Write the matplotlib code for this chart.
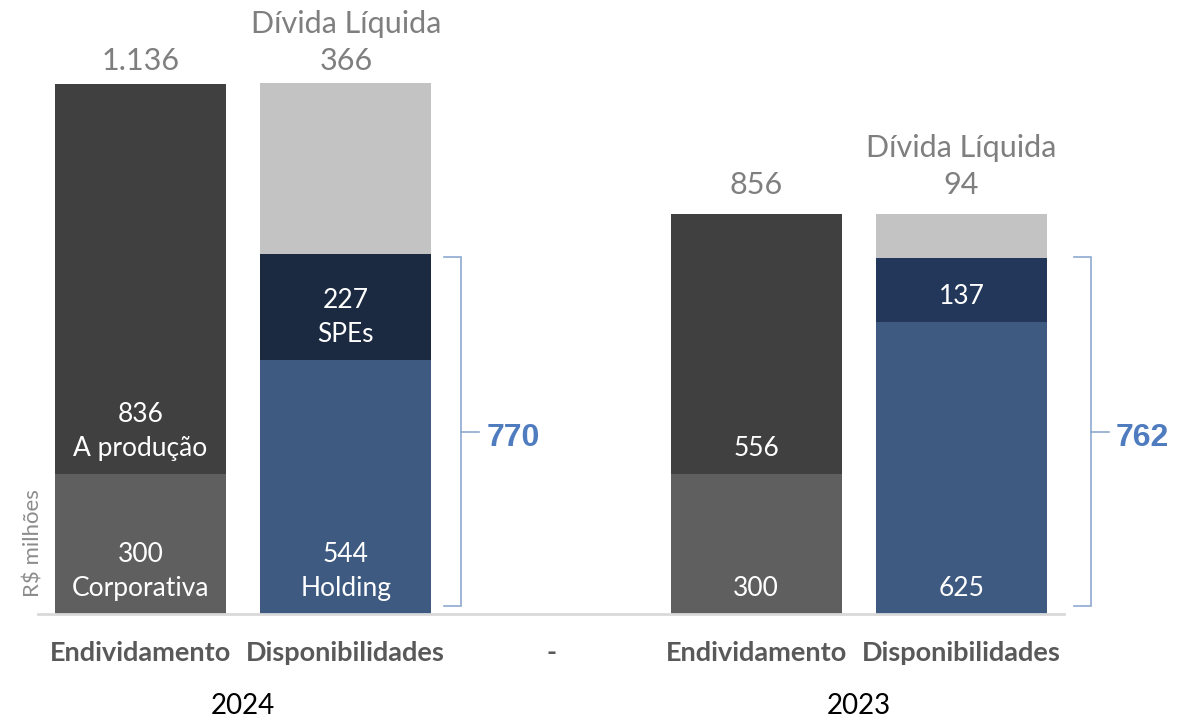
import matplotlib
matplotlib.use("Agg")
import matplotlib.pyplot as plt

# ---- data ----
categories = ["Endividamento", "Disponibilidades", "-", "Endividamento", "Disponibilidades"]
years = ["2024", "2023"]
debt_corporativa = [300, 300]
debt_producao = [836, 556]
debt_total_labels = ["1.136", "856"]
debt_total = [1136, 856]
cash_holding = [544, 625]
cash_spes = [227, 137]
net_debt = [366, 94]
cash_total = [770, 762]
corp_label = "Corporativa"
prod_label = "A produção"
holding_label = "Holding"
spes_label = "SPEs"
net_label = "Dívida Líquida"
unit_label = "R$ milhões"

# ---- style ----
C_CORP = "#5F5F5F"
C_PROD = "#404040"
C_HOLD = "#3E5A80"
C_SPES = ["#1B2A41", "#22375A"]
C_NET = "#C3C3C3"
C_GRAY_TXT = "#7F7F7F"
C_CAT = "#595959"
C_BRACKET = "#8EA9D0"
C_BR_TXT = "#4F7CBF"
FONT = "Lato"
TOP_OFFSET = [6, 11]

fig = plt.figure(figsize=(11.95, 7.21), dpi=100)
ax = fig.add_axes([38 / 1195, (721 - 613.5) / 721, (1064 - 38) / 1195, 613.5 / 721])
ax.set_xlim(-0.5, 4.5)
ax.set_ylim(0, 1315)

w = 0.834
debt_x = [0, 3]
cash_x = [1, 4]

def inner(x, base, text):
    ax.annotate(text, (x, base), xytext=(0, 9), textcoords="offset points",
                ha="center", va="bottom", color="white", fontsize=19,
                family=FONT, linespacing=1.45)

for i in range(2):
    dx, cx = debt_x[i], cash_x[i]
    ax.bar(dx, debt_corporativa[i], width=w, color=C_CORP)
    ax.bar(dx, debt_producao[i], width=w, bottom=debt_corporativa[i], color=C_PROD)
    ax.bar(cx, cash_holding[i], width=w, color=C_HOLD)
    ax.bar(cx, cash_spes[i], width=w, bottom=cash_holding[i], color=C_SPES[i])
    ax.bar(cx, net_debt[i], width=w, bottom=cash_holding[i] + cash_spes[i], color=C_NET)

    if i == 0:
        inner(dx, 0, f"{debt_corporativa[i]}\n{corp_label}")
        inner(dx, debt_corporativa[i], f"{debt_producao[i]}\n{prod_label}")
        inner(cx, 0, f"{cash_holding[i]}\n{holding_label}")
        inner(cx, cash_holding[i], f"{cash_spes[i]}\n{spes_label}")
    else:
        inner(dx, 0, f"{debt_corporativa[i]}")
        inner(dx, debt_corporativa[i], f"{debt_producao[i]}")
        inner(cx, 0, f"{cash_holding[i]}")
        inner(cx, cash_holding[i], f"{cash_spes[i]}")

    # totals
    ax.annotate(debt_total_labels[i], (dx, debt_total[i]), xytext=(0, TOP_OFFSET[i]),
                textcoords="offset points", ha="center", va="bottom",
                color=C_GRAY_TXT, fontsize=22, family=FONT)
    top_c = cash_holding[i] + cash_spes[i] + net_debt[i]
    ax.annotate(f"{net_label}\n{net_debt[i]}", (cx, top_c), xytext=(0, TOP_OFFSET[i]),
                textcoords="offset points", ha="center", va="bottom",
                color=C_GRAY_TXT, fontsize=22, family=FONT, linespacing=1.38)

    # bracket
    bx = cx + 0.5 + 0.062 if i == 0 else cx + 0.5 + 0.131
    y0, y1 = 16, max(cash_total) - 6
    t0 = bx - 0.083
    ax.plot([t0, bx, bx, t0], [y0, y0, y1, y1], color=C_BRACKET, lw=1.2,
            clip_on=False, solid_joinstyle="miter")
    ym = (y0 + y1) / 2
    ax.plot([bx, bx + 0.087], [ym, ym], color=C_BRACKET, lw=1.2, clip_on=False)
    ax.text(bx + 0.122, ym - 14, f"{cash_total[i]}", ha="left", va="center",
            color=C_BR_TXT, fontsize=23, fontweight="bold",
            family="Liberation Sans", clip_on=False)

# axes styling
for s in ["top", "right", "left"]:
    ax.spines[s].set_visible(False)
ax.spines["bottom"].set_color("#D9D9D9")
ax.spines["bottom"].set_linewidth(2)
ax.set_yticks([])
ax.set_xticks(range(len(categories)))
ax.set_xticklabels(categories, fontsize=19.5, fontweight="bold", color=C_CAT, family=FONT)
ax.tick_params(axis="x", length=0, pad=20)

# year labels
for i, yr in enumerate(years):
    xc = (debt_x[i] + cash_x[i]) / 2
    ax.annotate(yr, (xc, 0), xytext=(0, -57), textcoords="offset points",
                ha="center", va="top", fontsize=20, color="black", family=FONT,
                annotation_clip=False)

fig.text(33 / 1195, 1 - 543 / 721, unit_label, rotation=90, ha="center", va="center",
         fontsize=16, color="#8C8C8C", family=FONT)

fig.savefig("out.png", dpi=100, facecolor="white")
